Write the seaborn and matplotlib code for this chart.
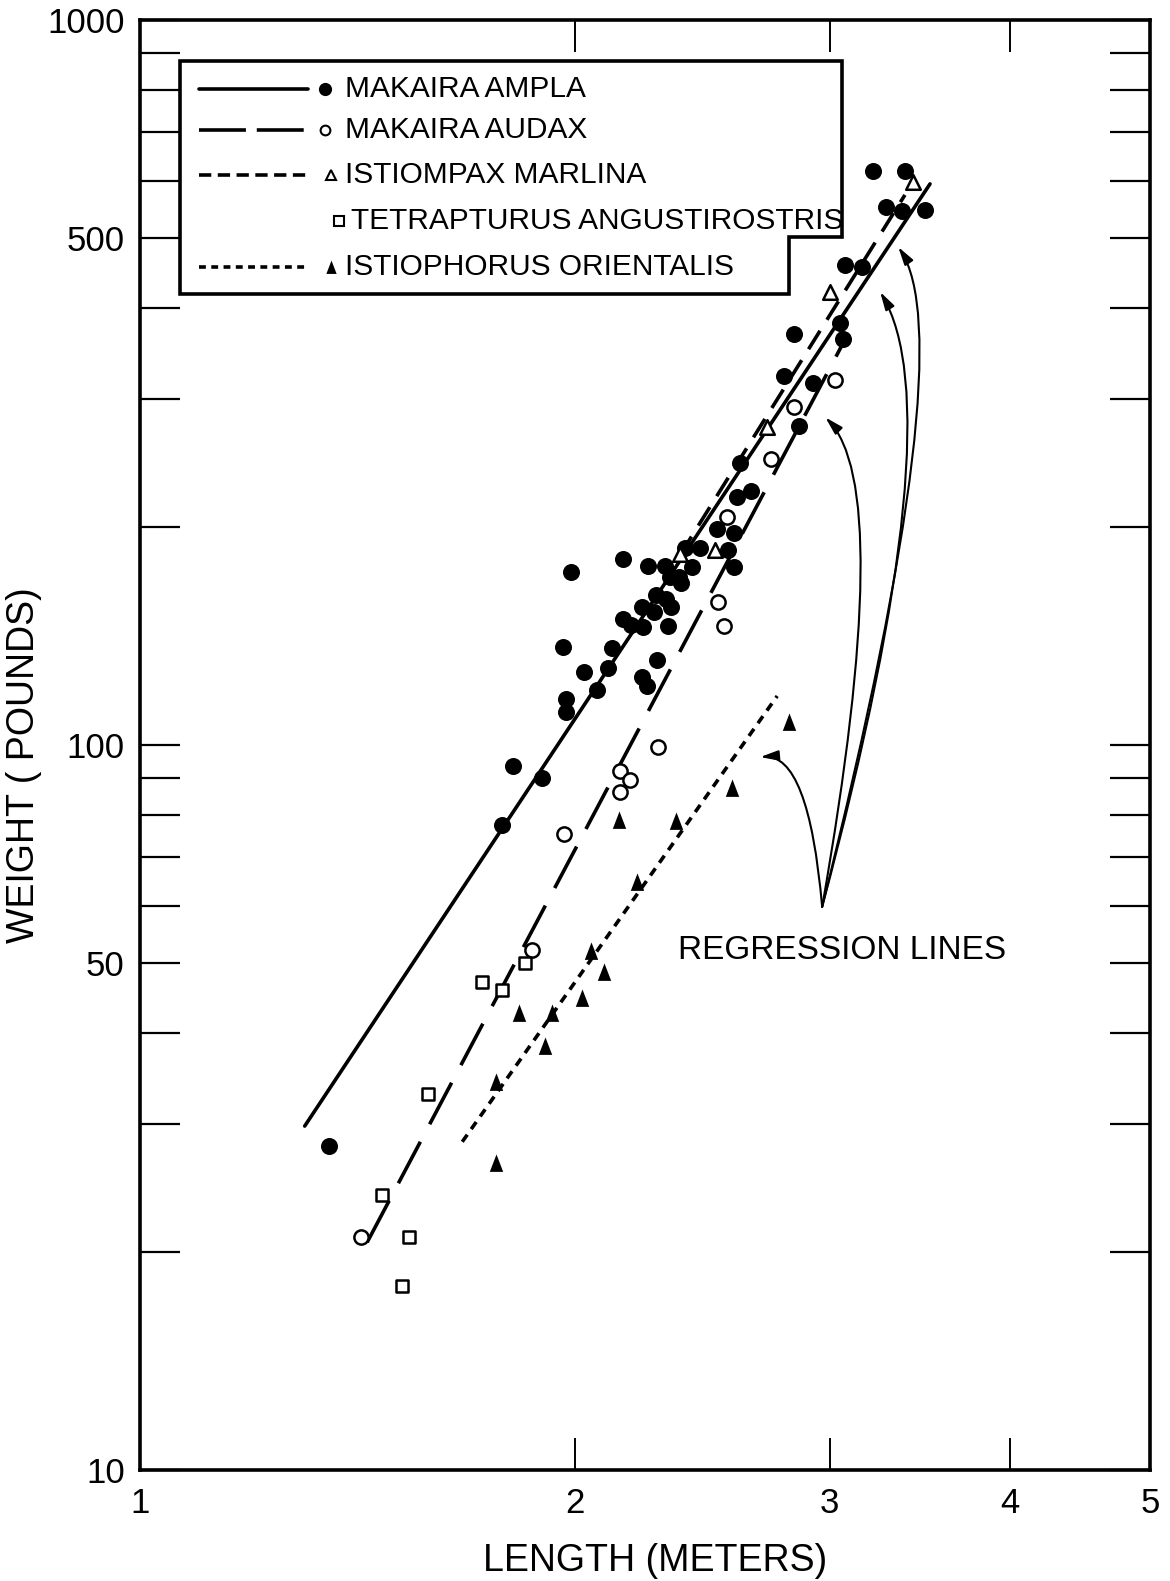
import matplotlib
matplotlib.use("Agg")
import matplotlib.pyplot as plt
import seaborn as sns
from matplotlib.ticker import FixedLocator, FixedFormatter, NullFormatter
from matplotlib.patches import Polygon
from matplotlib.lines import Line2D

# ---- measured specimens: length (m) and weight (lb) ----
ampla_length = [1.352, 1.781, 1.812, 1.897, 1.972, 1.972, 2.072, 2.029, 2.108, 2.122,
                1.962, 1.987, 2.160, 2.187, 2.229, 2.226, 2.269, 2.276, 2.312, 2.331,
                2.320, 2.279, 2.226, 2.243, 2.160, 2.247, 2.308, 2.327, 2.361, 2.368,
                2.384, 2.410, 2.440, 2.508, 2.577, 2.589, 2.647, 2.602, 2.858, 2.791,
                2.922, 2.835, 2.577, 2.552, 3.216, 3.383, 3.283, 3.367, 3.494, 3.075,
                3.159, 3.051, 3.066]
ampla_weight = [28.0, 77.6, 93.5, 90.0, 115.7, 110.9, 119.1, 126.1, 127.7, 136.1,
                136.5, 173.2, 149.2, 146.4, 145.5, 155.0, 152.6, 161.1, 159.0, 155.0,
                145.9, 131.0, 124.1, 120.6, 180.5, 176.5, 176.5, 170.4, 170.4, 167.2,
                186.9, 176.0, 186.9, 198.6, 196.1, 219.9, 224.1, 244.9, 275.4, 322.8,
                315.7, 368.9, 176.0, 185.8, 619.0, 619.0, 552.2, 545.2, 546.9, 459.3,
                456.3, 382.1, 363.1]

audax_length = [1.422, 1.867, 1.965, 2.149, 2.183, 2.149, 2.283, 2.512, 2.536, 2.548,
                2.733, 2.835, 3.027]
audax_weight = [20.96, 52.1, 75.4, 92.1, 89.5, 86.1, 99.4, 157.5, 145.9, 206.3,
                248.0, 292.6, 318.7]

marlina_length = [2.364, 2.500, 2.716, 3.003, 3.428]
marlina_weight = [183.4, 185.8, 274.5, 421.5, 597.9]

angustirostris_length = [1.725, 1.781, 1.847, 1.582, 1.471, 1.535, 1.518]
angustirostris_weight = [47.1, 45.9, 50.0, 33.0, 23.95, 20.96, 17.94]

orientalis_length = [2.813, 2.569, 2.349, 2.146, 2.208, 2.052, 2.095, 2.022, 1.928,
                     1.829, 1.907, 1.764, 1.764]
orientalis_weight = [107.6, 87.25, 78.6, 78.8, 64.7, 52.0, 48.6, 44.8, 42.7,
                     42.7, 38.4, 34.3, 26.5]

# ---- fitted regression lines: (length range, weight range) ----
ampla_fit_length = [1.300, 3.521]
ampla_fit_weight = [29.8, 594.0]
audax_fit_length = [1.436, 3.061]
audax_fit_weight = [20.6, 356.2]
marlina_fit_length = [2.364, 3.383]
marlina_fit_weight = [182.8, 573.6]
orientalis_fit_length = [1.671, 2.760]
orientalis_fit_weight = [28.35, 116.8]

species_names = ["MAKAIRA AMPLA", "MAKAIRA AUDAX", "ISTIOMPAX MARLINA",
                 "TETRAPTURUS ANGUSTIROSTRIS", "ISTIOPHORUS ORIENTALIS"]

x_tick_values = [1, 2, 3, 4, 5]
y_label_values = [10, 50, 100, 500, 1000]
y_minor_values = [20, 30, 40, 60, 70, 80, 90, 200, 300, 400, 600, 700, 800, 900]

annotation_text = "REGRESSION LINES"
annotation_anchor = (2.965, 59.8)
annotation_label_pos = (3.061, 52.0)
annotation_tips = [(2.686, 96.2), (2.98, 283.0), (3.252, 421.5), (3.347, 486.3)]

# ---- style ----
sns.set_theme(style="white")
plt.rcParams["font.family"] = ["Liberation Sans", "DejaVu Sans"]
plt.rcParams["text.color"] = "black"
plt.rcParams["axes.labelcolor"] = "black"
plt.rcParams["xtick.color"] = "black"
plt.rcParams["ytick.color"] = "black"

fig = plt.figure(figsize=(11.70, 15.81), dpi=100, facecolor="white")
ax = fig.add_axes([0.1197, 0.0703, 0.8633, 0.9171])
ax.set_xscale("log")
ax.set_yscale("log")
ax.set_xlim(1, 5)
ax.set_ylim(10, 1000)

LW = 2.6
triangle_tall = [(-1.0, -1.25), (1.0, -1.25), (0.0, 1.35)]

series = [
    (ampla_length, ampla_weight, dict(marker="o", s=150, color="black", linewidth=0)),
    (audax_length, audax_weight, dict(marker="o", s=105, facecolor="white", edgecolor="black", linewidth=1.8)),
    (marlina_length, marlina_weight, dict(marker="^", s=110, facecolor="white", edgecolor="black", linewidth=1.8)),
    (angustirostris_length, angustirostris_weight, dict(marker="s", s=72, facecolor="white", edgecolor="black", linewidth=1.8)),
    (orientalis_length, orientalis_weight, dict(marker=triangle_tall, s=170, color="black", linewidth=0)),
]

fits = [
    (ampla_fit_length, ampla_fit_weight, "-"),
    (audax_fit_length, audax_fit_weight, (0, (13, 5.5))),
    (marlina_fit_length, marlina_fit_weight, (0, (6, 3.6))),
    (orientalis_fit_length, orientalis_fit_weight, (0, (2.4, 1.9))),
]
for fx, fy, ls in fits:
    sns.lineplot(x=fx, y=fy, ax=ax, color="black", linewidth=LW, linestyle=ls,
                 estimator=None, sort=False, legend=False)

for lx, wy, kw in series:
    sns.scatterplot(x=lx, y=wy, ax=ax, legend=False, zorder=3, **kw)

# ---- axes frame and ticks ----
for sp in ax.spines.values():
    sp.set_linewidth(2.6)
    sp.set_color("black")

ax.xaxis.set_major_locator(FixedLocator(x_tick_values))
ax.xaxis.set_major_formatter(FixedFormatter([str(v) for v in x_tick_values]))
ax.xaxis.set_minor_locator(FixedLocator([]))
ax.yaxis.set_major_locator(FixedLocator(y_label_values))
ax.yaxis.set_major_formatter(FixedFormatter([str(v) for v in y_label_values]))
ax.yaxis.set_minor_locator(FixedLocator(y_minor_values))
ax.yaxis.set_minor_formatter(NullFormatter())

ax.tick_params(axis="x", which="major", direction="in", length=23, width=1.4,
               top=True, bottom=True, labelsize=25, pad=12)
ax.tick_params(axis="y", which="both", direction="in", length=29, width=1.6,
               left=True, right=True, labelsize=25, pad=11)

ax.set_xlabel("LENGTH (METERS)", fontsize=27)
ax.set_ylabel("WEIGHT ( POUNDS)", fontsize=27)
ax.xaxis.set_label_coords(0.51, -0.0503)
ax.yaxis.set_label_coords(-0.097, 0.486)

# ---- legend box with stepped lower-right corner ----
box = Polygon([(0.0396, 0.972), (0.695, 0.972), (0.695, 0.850), (0.6426, 0.850),
               (0.6426, 0.8107), (0.0396, 0.8107)], closed=True, transform=ax.transAxes,
              facecolor="white", edgecolor="black", linewidth=2.6, zorder=4)
ax.add_patch(box)

rows = [0.9526, 0.9240, 0.8928, 0.8614, 0.8297]
legend_styles = ["-", (0, (13, 3)), (0, (3.4, 1.8)), None, (0, (1.9, 1.5))]
legend_markers = [
    dict(marker="o", markersize=9.5, markerfacecolor="black", markeredgecolor="black", mew=0),
    dict(marker="o", markersize=7, markerfacecolor="white", markeredgecolor="black", mew=1.5),
    dict(marker="^", markersize=7, markerfacecolor="white", markeredgecolor="black", mew=1.5),
    dict(marker="s", markersize=6.5, markerfacecolor="white", markeredgecolor="black", mew=1.5),
    dict(marker=triangle_tall, markersize=10, markerfacecolor="black", markeredgecolor="black", mew=0),
]
marker_x = [0.183, 0.183, 0.189, 0.197, 0.189]
text_x = [0.203, 0.203, 0.203, 0.209, 0.203]
for i, name in enumerate(species_names):
    y = rows[i]
    if legend_styles[i] is not None:
        ax.add_line(Line2D([0.058, 0.166], [y, y], transform=ax.transAxes, color="black",
                           linewidth=LW, linestyle=legend_styles[i], zorder=5))
    ax.add_line(Line2D([marker_x[i]], [y], transform=ax.transAxes, linestyle="none",
                       zorder=5, **legend_markers[i]))
    ax.text(text_x[i], y, name, transform=ax.transAxes, fontsize=21.5, va="center",
            ha="left", zorder=5)

# ---- annotation with curved arrows ----
ax.text(annotation_label_pos[0], annotation_label_pos[1], annotation_text, fontsize=24,
        ha="center", va="center")
conn = ["angle3,angleA=95,angleB=5", "angle3,angleA=80,angleB=135",
        "angle3,angleA=75,angleB=121", "angle3,angleA=76,angleB=124"]
for tip, cs in zip(annotation_tips, conn):
    ax.annotate("", xy=tip, xytext=annotation_anchor,
                arrowprops=dict(arrowstyle="-|>,head_length=0.9,head_width=0.25",
                                color="black", lw=1.5, connectionstyle=cs,
                                shrinkA=0, shrinkB=0))

fig.savefig("out.png", dpi=100, facecolor="white")
